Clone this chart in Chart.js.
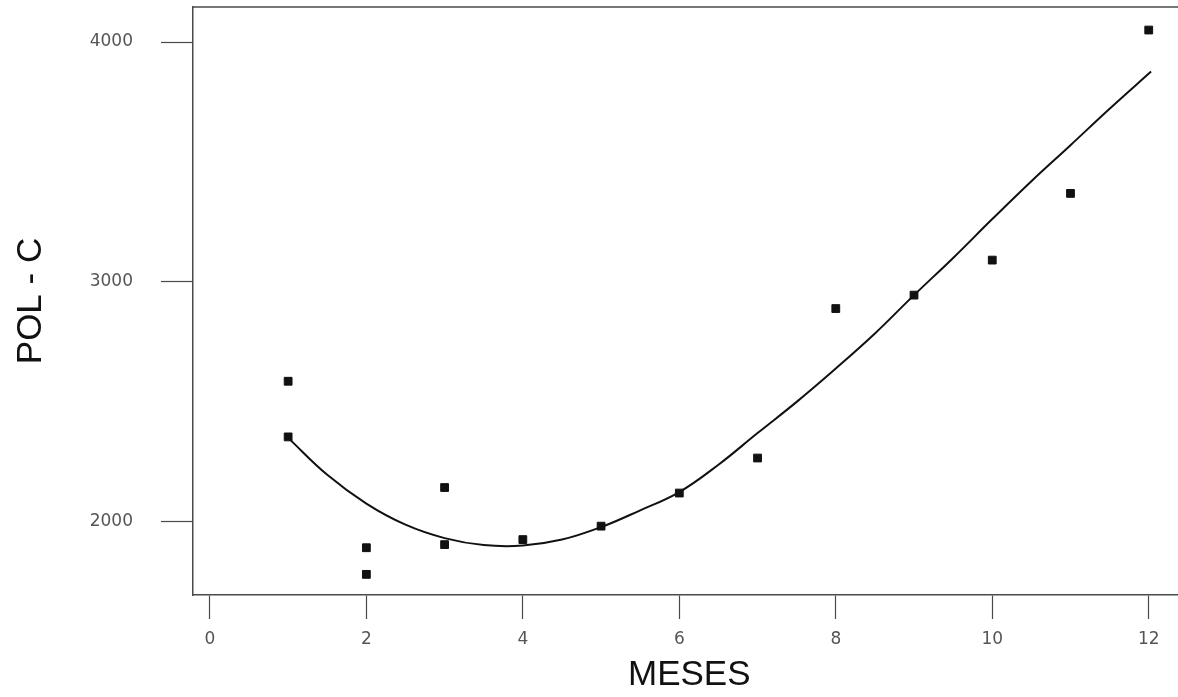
<!DOCTYPE html>
<html>
<head>
<meta charset="utf-8">
<script src="https://cdn.jsdelivr.net/npm/chart.js@4/dist/chart.umd.min.js"></script>
<style>
  html, body { margin: 0; padding: 0; background: #fff; overflow: hidden; }
  #wrap { width: 1178px; height: 697px; overflow: hidden; }
  canvas { display: block; }
</style>
</head>
<body>
<div id="wrap"><canvas id="c" width="1192" height="697"></canvas></div>
<script>
// Observed monthly values (two readings for months 1, 2 and 3)
const obsMonth = [1, 1, 2, 2, 3, 3, 4, 5, 6, 7, 8, 9, 10, 11, 12];
const obsValue = [2586, 2354, 1892, 1781, 2143, 1905, 1926, 1982, 2120, 2266, 2889, 2945, 3091, 3369, 4050];

// Fitted trend curve
const fitMonth = [1, 1.5, 2, 2.5, 3, 3.5, 4, 4.5, 5, 5.5, 6, 6.5, 7, 7.5, 8, 8.5, 9, 9.5, 10, 10.5, 11, 11.5, 12.03];
const fitValue = [2350, 2196, 2076, 1988, 1932, 1903, 1901, 1926, 1978, 2048, 2124, 2238, 2370, 2500, 2639, 2785, 2945, 3100, 3262, 3420, 3570, 3722, 3877];

// Axis ticks
const xTicks = [0, 2, 4, 6, 8, 10, 12];
const yTicks = [2000, 3000, 4000];

const axisColor = '#4a4a4a';
const tickFont = { family: 'DejaVu Sans', size: 17 };
const titleFont = { family: 'Liberation Sans', size: 35 };

// Closes the plot frame along its top edge
const topEdge = {
  id: 'topEdge',
  afterDraw(chart) {
    const { ctx, chartArea: a } = chart;
    ctx.save();
    ctx.strokeStyle = axisColor;
    ctx.lineWidth = 1.5;
    ctx.beginPath();
    ctx.moveTo(a.left, a.top);
    ctx.lineTo(a.right, a.top);
    ctx.stroke();
    ctx.restore();
  }
};

new Chart(document.getElementById('c'), {
  type: 'scatter',
  data: {
    datasets: [
      {
        type: 'line',
        data: fitMonth.map((m, i) => ({ x: m, y: fitValue[i] })),
        borderColor: '#111',
        borderWidth: 2,
        pointRadius: 0,
        tension: 0.4,
        fill: false
      },
      {
        data: obsMonth.map((m, i) => ({ x: m, y: obsValue[i] })),
        pointStyle: 'rect',
        pointRadius: 5.5,
        backgroundColor: '#111',
        borderColor: '#111',
        borderWidth: 1
      }
    ]
  },
  plugins: [topEdge],
  options: {
    responsive: false,
    animation: false,
    layout: { padding: { top: 7, left: 0, right: 0, bottom: 0 } },
    plugins: { legend: { display: false }, tooltip: { enabled: false } },
    scales: {
      x: {
        type: 'linear',
        position: 'bottom',
        min: -0.216,
        max: 12.47,
        afterBuildTicks: s => { s.ticks = xTicks.map(v => ({ value: v })); },
        afterFit: s => { s.height = 102; s.paddingLeft = 0; s.paddingRight = 0; },
        ticks: { font: tickFont, color: '#555', padding: 10, maxRotation: 0, callback: v => String(v) },
        grid: { drawOnChartArea: false, tickLength: 24, tickColor: axisColor, tickWidth: 1.2 },
        border: { display: true, color: axisColor, width: 1.5 },
        title: { display: true, text: 'MESES', font: titleFont, color: '#111', padding: { top: 0, bottom: 1 } }
      },
      y: {
        type: 'linear',
        position: 'left',
        min: 1695,
        max: 4146,
        afterBuildTicks: s => { s.ticks = yTicks.map(v => ({ value: v })); },
        afterFit: s => { s.width = 193; s.paddingTop = 0; s.paddingBottom = 0; },
        ticks: { font: tickFont, color: '#555', padding: 28, callback: v => String(v) },
        grid: { drawOnChartArea: false, tickLength: 32, tickColor: axisColor, tickWidth: 1.2 },
        border: { display: true, color: axisColor, width: 1.5 },
        title: { display: true, text: 'POL - C', font: titleFont, color: '#111', padding: { top: 10, bottom: 0 } }
      }
    }
  }
});
</script>
</body>
</html>
